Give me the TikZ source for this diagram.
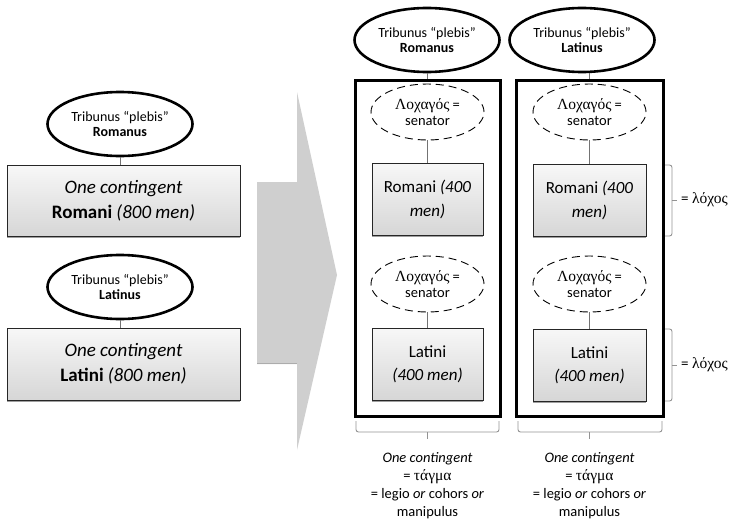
\documentclass[tikz,border=0pt]{standalone}
\usepackage{fontspec}
\setmainfont{Carlito}
\newfontfamily\grk{Liberation Serif}
\newcommand{\gkbig}[1]{{\grk\fontsize{15.5}{16}\selectfont #1}}
\usetikzlibrary{shapes.geometric,shadows}
\begin{document}
\begin{tikzpicture}[x=1pt,y=-1pt,
  tribell/.style={ellipse,draw=black,line width=2.6pt,fill=white,inner sep=0pt,
    minimum width=145pt,minimum height=64pt,align=center,
    font=\fontsize{14}{14.5}\selectfont},
  lochell/.style={ellipse,draw=black,dashed,dash pattern=on 8pt off 5pt,line width=0.9pt,
    fill=white,inner sep=0pt,minimum width=113pt,minimum height=56pt,align=center,
    font=\fontsize{14.5}{16}\selectfont},
  gbox/.style={rectangle,draw=black!85,line width=0.8pt,top color=gray!6,bottom color=gray!32,
    inner sep=0pt,align=center,
    drop shadow={shadow xshift=0pt,shadow yshift=-2.2pt,fill=gray!75,opacity=1}},
  bigbox/.style={rectangle,draw=black,line width=3pt,inner sep=0pt,fill=none},
  conn/.style={draw=gray!90!black,line width=0.8pt},
  brk/.style={draw=gray!85,line width=0.9pt,rounded corners=2.5pt},
  lbl/.style={align=center,font=\fontsize{14.5}{18}\selectfont},
  lochos/.style={anchor=west,inner sep=0pt,font=\fontsize{15}{16}\selectfont}
]
\useasboundingbox (0,0) rectangle (730,519);

% big arrow
\fill[gray!38] (257,182) -- (297,182) -- (297,92) -- (337,275) -- (297,450) -- (297,364) -- (257,364) -- cycle;
\draw[gray!65,line width=1pt] (257,363.5) -- (297,363.5);

% ---------- left ----------
\node[gbox,minimum width=233pt,minimum height=71pt,font=\fontsize{19}{25}\selectfont]
  (lR) at (123.5,200.5) {\textit{One contingent}\\\textbf{Romani} \textit{(800 men)}};
\node[tribell] (tL1) at (120,124) {Tribunus “plebis”\\\textbf{Romanus}};
\draw[conn] (tL1.south) -- (tL1.south |- lR.north);

\node[gbox,minimum width=233pt,minimum height=72pt,font=\fontsize{19}{25}\selectfont]
  (lL) at (123.5,364) {\textit{One contingent}\\\textbf{Latini} \textit{(800 men)}};
\node[tribell] (tL2) at (120,287) {Tribunus “plebis”\\\textbf{Latinus}};
\draw[conn] (tL2.south) -- (tL2.south |- lL.north);

% ---------- middle ----------
\node[bigbox,minimum width=145pt,minimum height=336pt] (mB) at (427.5,248) {};
\node[tribell] (mT) at (427,40) {Tribunus “plebis”\\\textbf{Romanus}};
\draw[conn] (mT.south) -- (mT.south |- mB.north);
\node[lochell] (mE1) at (427.5,112) {\gkbig{Λοχαγός} =\\senator};
\node[gbox,minimum width=111pt,minimum height=72pt,font=\fontsize{17}{24}\selectfont]
  (mR) at (427.5,199) {Romani \textit{(400}\\\textit{men)}};
\draw[conn] (mE1.south) -- (mR.north);
\node[lochell] (mE2) at (427.5,284) {\gkbig{Λοχαγός} =\\senator};
\node[gbox,minimum width=111pt,minimum height=72pt,font=\fontsize{17}{23}\selectfont]
  (mL) at (427.5,364) {Latini\\\textit{(400 men)}};
\draw[conn] (mE2.south) -- (mL.north);

% ---------- right ----------
\node[bigbox,minimum width=147pt,minimum height=336pt] (rB) at (589.5,248) {};
\node[tribell] (rT) at (582,40) {Tribunus “plebis”\\\textbf{Latinus}};
\draw[conn] (rB.north |- rT.south) -- (rB.north);
\node[lochell] (rE1) at (589.5,112) {\gkbig{Λοχαγός} =\\senator};
\node[gbox,minimum width=113pt,minimum height=72pt,font=\fontsize{17}{24}\selectfont]
  (rR) at (589.5,200) {Romani \textit{(400}\\\textit{men)}};
\draw[conn] (rE1.south) -- (rR.north);
\node[lochell] (rE2) at (589.5,284) {\gkbig{Λοχαγός} =\\senator};
\node[gbox,minimum width=113pt,minimum height=72pt,font=\fontsize{17}{23}\selectfont]
  (rL) at (589.5,365) {Latini\\\textit{(400 men)}};
\draw[conn] (rE2.south) -- (rL.north);

% lochos brackets
\coordinate (b1m) at (672,200);
\draw[brk] (665,165) -| (b1m);
\draw[brk] (665,236) -| (b1m);
\draw[brk] (b1m) -- ++(5,0);
\node[lochos] (lo1) at (681,200) {= \gkbig{λόχος}};

\coordinate (b2m) at (672,365);
\draw[brk] (665,329) -| (b2m);
\draw[brk] (665,401) -| (b2m);
\draw[brk] (b2m) -- ++(5,0);
\node[lochos] (lo2) at (681,365) {= \gkbig{λόχος}};

% bottom brackets
\coordinate (bm) at (427.5,432);
\draw[brk] (356,421) |- (bm);
\draw[brk] (499,421) |- (bm);
\draw[brk] (bm) -- ++(0,7);
\node[lbl] (tm) at (427.5,486) {\textit{One contingent}\\= \gkbig{τάγμα}\\= legio \textit{or} cohors \textit{or}\\manipulus};

\coordinate (brm) at (589.5,432);
\draw[brk] (518,421) |- (brm);
\draw[brk] (662,421) |- (brm);
\draw[brk] (brm) -- ++(0,7);
\node[lbl] (tr) at (589.5,486) {\textit{One contingent}\\= \gkbig{τάγμα}\\= legio \textit{or} cohors \textit{or}\\manipulus};
\end{tikzpicture}
\end{document}
